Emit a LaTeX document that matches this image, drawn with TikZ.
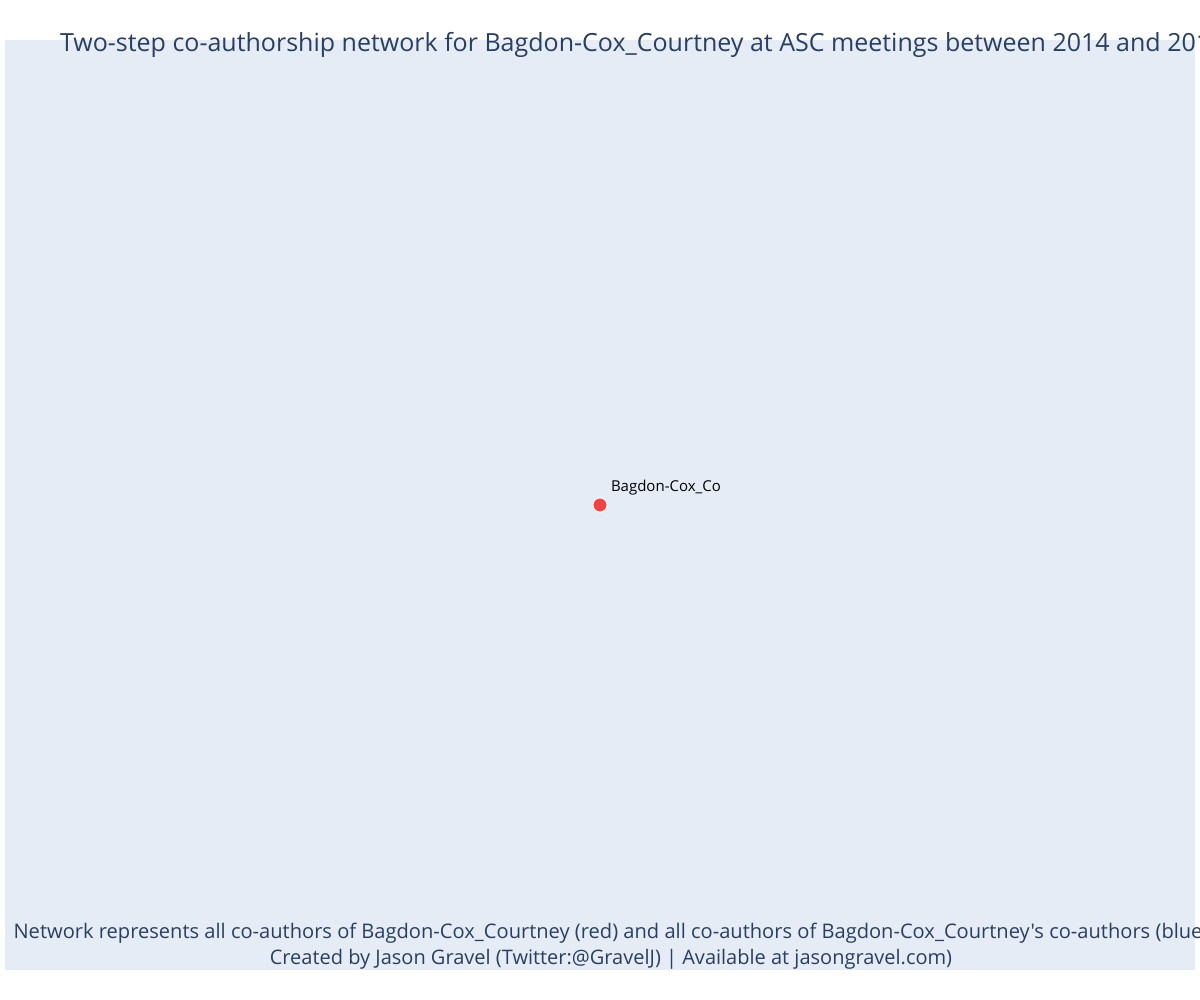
\documentclass[tikz,border=0pt]{standalone}
\usepackage{fontspec}
\setmainfont{Open Sans}[Ligatures=TeXOff]
\definecolor{panel}{HTML}{E5ECF6}
\definecolor{plotlytext}{HTML}{2A3F5F}
\definecolor{dotred}{HTML}{EF4444}
\begin{document}
\begin{tikzpicture}[x=1pt,y=-1pt,
  txt/.style={inner sep=0pt,outer sep=0pt,text=plotlytext},
  lbl/.style={inner sep=0pt,outer sep=0pt,text=black,font=\fontsize{15}{17}\selectfont}]
\useasboundingbox (0,0) rectangle (1200,1000);
\clip (0,0) rectangle (1200,1000);
\fill[white] (0,0) rectangle (1200,1000);
\fill[panel] (5,40) rectangle (1195,970);
\node[txt,anchor=base west,font=\fontsize{25}{29}\selectfont] (title) at (60,52)
  {Two-step co-authorship network for Bagdon-Cox\_Courtney at ASC meetings between 2014 and 2019};
\node[circle,fill=dotred,draw=white,line width=0.8pt,minimum size=14pt,inner sep=0pt] (ego) at (600,505) {};
\node[lbl,anchor=base west] (egolabel) at (611,491) {Bagdon-Cox\_Co};
\node[txt,anchor=base,font=\fontsize{20.1}{24}\selectfont] (note1) at (611,938)
  {Network represents all co-authors of Bagdon-Cox\_Courtney (red) and all co-authors of Bagdon-Cox\_Courtney's co-authors (blue)};
\node[txt,anchor=base,font=\fontsize{20}{24}\selectfont] (note2) at (611,964)
  {Created by Jason Gravel (Twitter:@GravelJ) | Available at jasongravel.com)};
\end{tikzpicture}
\end{document}
